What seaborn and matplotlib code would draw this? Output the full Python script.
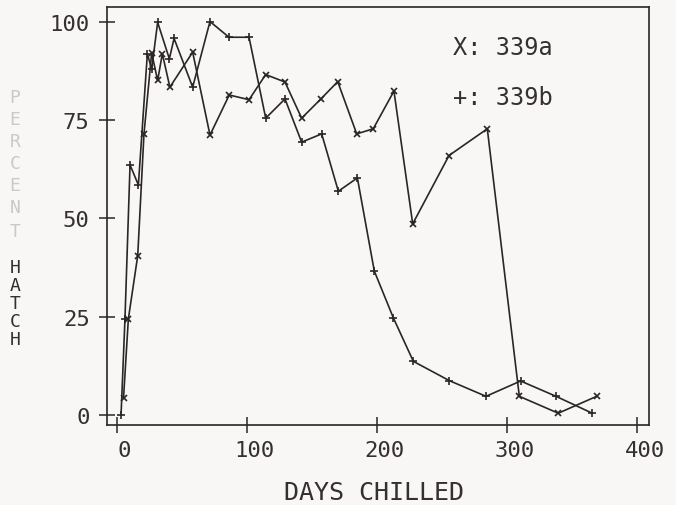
import matplotlib
matplotlib.use("Agg")
import matplotlib.pyplot as plt
import matplotlib.transforms as mtransforms
import seaborn as sns
import pandas as pd

# ---- data ----
days_a = [5.4, 9.1, 16.3, 21.1, 27.0, 31.6, 35.2, 41.0, 58.5, 71.8, 86.6, 101.8,
          114.6, 129.4, 142.2, 157.0, 169.9, 184.5, 197.2, 213.1, 227.5, 255.4,
          284.8, 309.4, 339.3, 368.8]
hatch_a = [4.3, 24.4, 40.5, 71.5, 92.1, 85.1, 91.9, 83.4, 92.3, 71.2, 81.4, 80.2,
           86.6, 84.7, 75.5, 80.4, 84.8, 71.5, 72.8, 82.4, 48.6, 66.0,
           72.8, 4.7, 0.4, 4.7]

days_b = [3.5, 6.5, 10.4, 16.8, 23.7, 27.0, 31.6, 40.6, 44.2, 58.5, 71.8, 86.4,
          101.8, 114.6, 129.4, 142.2, 157.6, 170.4, 185.0, 198.0, 212.6, 228.0,
          255.6, 283.8, 310.4, 337.6, 365.4]
hatch_b = [0.0, 24.4, 63.6, 58.5, 91.9, 88.0, 99.9, 90.6, 95.8, 83.4, 100.1, 96.1,
           96.1, 75.5, 80.4, 69.4, 71.5, 56.9, 60.3, 36.6, 24.7, 13.6,
           8.7, 4.7, 8.6, 4.7, 0.4]

x_ticks = [0, 100, 200, 300, 400]
y_ticks = [0, 25, 50, 75, 100]
legend_labels = ["X: 339a", "+: 339b"]
x_title = "DAYS CHILLED"
y_title_words = ["PERCENT", "HATCH"]

df_a = pd.DataFrame({"days": days_a, "hatch": hatch_a})
df_b = pd.DataFrame({"days": days_b, "hatch": hatch_b})

sns.set_theme(style="white")
bg = "#f9f7f5"
ink = "#2a2626"
txt = "#353030"
plt.rcParams["font.family"] = ["DejaVu Sans Mono", "DejaVu Sans"]

fig = plt.figure(figsize=(6.76, 5.06), dpi=100, facecolor=bg)
ax = fig.add_axes([107 / 676, 1 - 426 / 506, (649 - 107) / 676, (426 - 8) / 506])
ax.set_facecolor(bg)

sns.lineplot(data=df_a, x="days", y="hatch", ax=ax, color=ink, linewidth=1.2,
             marker="x", markersize=5, markeredgewidth=1.2, markeredgecolor=ink,
             estimator=None, sort=False)
sns.lineplot(data=df_b, x="days", y="hatch", ax=ax, color=ink, linewidth=1.2,
             marker="+", markersize=6, markeredgewidth=1.2, markeredgecolor=ink,
             estimator=None, sort=False)

ax.set_xlim(-7.3, 409)
ax.set_ylim(-2.6, 103.8)
ax.set_xticks(x_ticks)
ax.set_yticks(y_ticks)
ax.set_xticklabels([str(t) for t in x_ticks])
ax.set_yticklabels([str(t) for t in y_ticks])
ax.tick_params(axis="both", direction="inout", length=11, width=1.1, color=ink,
               labelsize=16, labelcolor=txt, bottom=True, left=True)
ax.tick_params(axis="x", pad=5)
ax.tick_params(axis="y", pad=7)
for lab in ax.get_xticklabels():
    lab.set_transform(lab.get_transform() + mtransforms.ScaledTranslation(8 / 100, 0, fig.dpi_scale_trans))
for sp in ax.spines.values():
    sp.set_color(ink)
    sp.set_linewidth(1.2)
    sp.set_visible(True)
ax.set_xlabel("")
ax.set_ylabel("")

fig.text(374 / 676, 1 - 493 / 506, x_title, ha="center", va="center",
         fontsize=18, color=txt)

# vertical stacked y label (letters upright, one below another)
p_pos = [98, 120, 142, 164, 186, 208, 232]
h_pos = [268, 286, 304, 322, 340]
for ch, yy in zip(y_title_words[0], p_pos):
    fig.text(15 / 676, 1 - yy / 506, ch, ha="center", va="center",
             fontsize=13, color="#cdc8c6")
for ch, yy in zip(y_title_words[1], h_pos):
    fig.text(15 / 676, 1 - yy / 506, ch, ha="center", va="center",
             fontsize=13, color=txt)

ax.text((453 - 107) / 542, (426 - 48) / 418, legend_labels[0],
        transform=ax.transAxes, ha="left", va="center", fontsize=17, color=txt)
ax.text((453 - 107) / 542, (426 - 98) / 418, legend_labels[1],
        transform=ax.transAxes, ha="left", va="center", fontsize=17, color=txt)

fig.savefig("out.png", dpi=100, facecolor=bg)
